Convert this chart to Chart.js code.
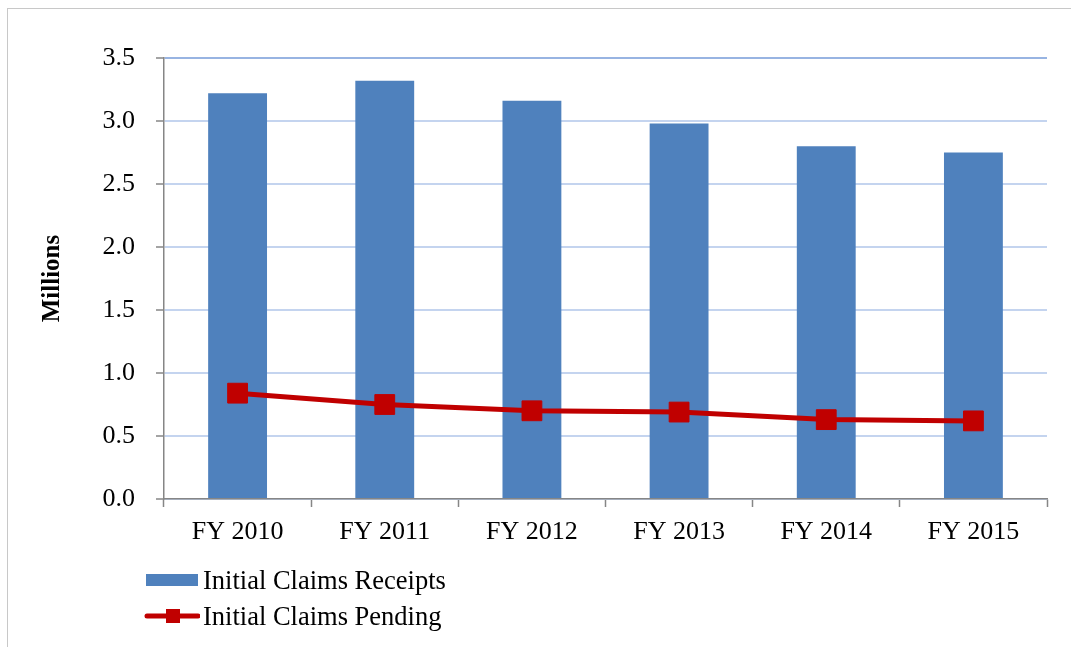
<!DOCTYPE html>
<html>
<head>
<meta charset="utf-8">
<script src="https://cdn.jsdelivr.net/npm/chart.js@4"></script>
<style>
    body { margin: 0; background: #fff; }
    #wrap { position: relative; width: 1071px; height: 647px; }
    #frame {
        position: absolute; left: 7px; top: 8px; right: 0; bottom: 0;
        border-top: 1px solid #c8c8c8; border-left: 1px solid #c8c8c8;
    }
    #chart { position: absolute; left: 0; top: 0; }
    #legend {
        position: absolute; left: 144px; top: 562px;
        font-family: 'Liberation Serif', 'Times New Roman', serif;
        font-size: 26.5px; color: #000;
    }
    .item { display: flex; align-items: center; height: 36px; }
    .swatch { width: 56px; height: 36px; margin-right: 3px; }
</style>
</head>
<body>
<div id="wrap">
    <div id="frame"></div>
    <canvas id="chart" width="1071" height="647"></canvas>
    <div id="legend"></div>
</div>
<script>
const categories = ['FY 2010', 'FY 2011', 'FY 2012', 'FY 2013', 'FY 2014', 'FY 2015'];
const receipts = [3.22, 3.32, 3.16, 2.98, 2.80, 2.75];
const pending = [0.84, 0.75, 0.70, 0.69, 0.63, 0.62];

const BLUE = '#4f81bd';
const RED = '#c00000';
const AXIS = '#868686';
const FONT = "'Liberation Serif', 'Times New Roman', serif";

const chart = new Chart(document.getElementById('chart'), {
    data: {
        labels: categories,
        datasets: [
            {
                type: 'line',
                label: 'Initial Claims Pending',
                data: pending,
                borderColor: RED,
                backgroundColor: RED,
                borderWidth: 5,
                tension: 0,
                pointStyle: 'rect',
                pointRadius: 14,
                pointHoverRadius: 14,
                pointBorderWidth: 1,
                order: 0
            },
            {
                type: 'bar',
                label: 'Initial Claims Receipts',
                data: receipts,
                backgroundColor: BLUE,
                categoryPercentage: 0.8,
                barPercentage: 0.5,
                order: 1
            }
        ]
    },
    options: {
        responsive: false,
        animation: false,
        layout: { padding: { top: 58, right: 24, bottom: 108, left: 38 } },
        plugins: {
            legend: { display: false },
            tooltip: { enabled: false }
        },
        scales: {
            x: {
                grid: {
                    offset: true,
                    drawOnChartArea: false,
                    tickLength: 8,
                    tickColor: AXIS,
                    tickWidth: 1.5
                },
                border: { color: AXIS, width: 1.5 },
                ticks: {
                    color: '#000',
                    padding: 10,
                    font: { family: FONT, size: 26 }
                },
                afterFit: scale => { scale.height = 40; }
            },
            y: {
                min: 0,
                max: 3.5,
                ticks: {
                    stepSize: 0.5,
                    color: '#000',
                    padding: 21,
                    font: { family: FONT, size: 26 },
                    callback: v => Number(v).toFixed(1)
                },
                grid: {
                    // top line is a touch stronger in the original
                    color: ctx => ctx.tick && ctx.tick.value === 3.5 ? '#98b4e2' : '#c4d4ef',
                    lineWidth: 2,
                    tickLength: 8,
                    tickColor: AXIS,
                    tickWidth: 1.5
                },
                border: { color: AXIS, width: 1.5 },
                title: {
                    display: true,
                    text: 'Millions',
                    color: '#000',
                    padding: 0,
                    font: { family: FONT, size: 25, weight: 'bold' }
                },
                afterFit: scale => { scale.width = 126; }
            }
        }
    }
});

// legend below the chart, one entry per row
const legendEl = document.getElementById('legend');
[1, 0].forEach(i => {
    const ds = chart.data.datasets[i];
    const item = document.createElement('div');
    item.className = 'item';
    const sw = document.createElement('canvas');
    sw.className = 'swatch';
    sw.width = 56;
    sw.height = 36;
    const c = sw.getContext('2d');
    if (ds.type === 'bar') {
        c.fillStyle = ds.backgroundColor;
        c.fillRect(2, 12, 52, 12);
    } else {
        c.strokeStyle = ds.borderColor;
        c.lineWidth = 5;
        c.lineCap = 'round';
        c.beginPath();
        c.moveTo(3, 18);
        c.lineTo(54, 18);
        c.stroke();
        c.fillStyle = ds.backgroundColor;
        c.fillRect(22, 11, 14, 14);
    }
    item.appendChild(sw);
    const txt = document.createElement('span');
    txt.textContent = ds.label;
    item.appendChild(txt);
    legendEl.appendChild(item);
});
</script>
</body>
</html>
